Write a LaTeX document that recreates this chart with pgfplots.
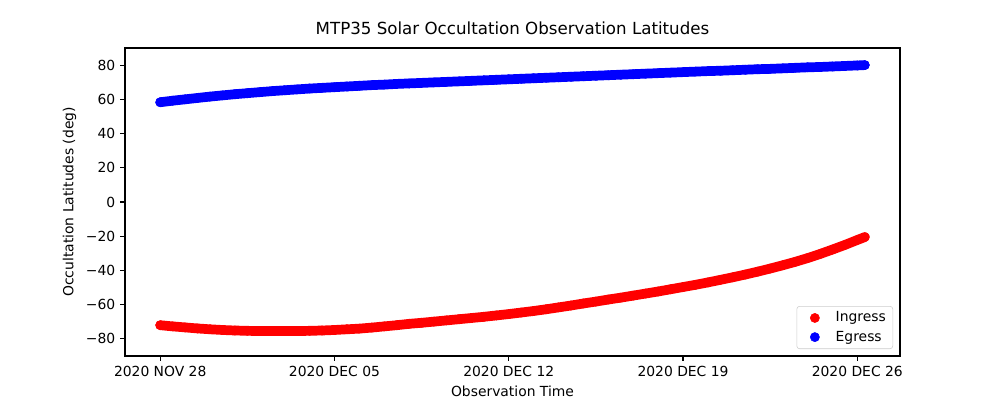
\documentclass[border=0pt]{standalone}
\usepackage{fontspec}
\setmainfont{DejaVu Sans}
\usepackage{pgfplots}
\pgfplotsset{compat=1.18}
\definecolor{legendedge}{gray}{0.8}

\begin{document}
\begin{tikzpicture}[font=\fontsize{10}{12}\selectfont]
  % page = 1000x400 px at 0.72pt per px; axis box at (125,48)-(900,356) px
  \useasboundingbox (-90pt,-31.68pt) rectangle (630pt,256.32pt);
  \begin{axis}[
    at={(0pt,0pt)}, anchor=south west,
    scale only axis,
    width=558pt,
    height=221.76pt,
    xmin=-1.415, xmax=29.715,
    ymin=-90, ymax=90,
    axis line style={line width=0.8pt},
    tick align=outside,
    major tick length=3.5pt,
    tick style={black, line width=0.8pt},
    xtick pos=bottom,
    ytick pos=left,
    xtick={0,7,14,21,28},
    xticklabels={2020 NOV 28, 2020 DEC 05, 2020 DEC 12, 2020 DEC 19, 2020 DEC 26},
    ytick={-80,-60,-40,-20,0,20,40,60,80},
    yticklabels={−80,−60,−40,−20,0,20,40,60,80},
    xlabel={Observation Time},
    ylabel={Occultation Latitudes (deg)},
    title={MTP35 Solar Occultation Observation Latitudes},
    title style={font=\fontsize{12}{14}\selectfont},
    legend style={at={(1,0)}, anchor=south east, xshift=-5pt, yshift=5pt,
      draw=legendedge, rounded corners=2pt, fill=white,
      inner xsep=3pt, inner ysep=2pt,
      row sep=1pt, column sep=3pt},
    legend cell align=left,
    legend image code/.code={
      \path[draw=none, fill=none] (0pt,0pt) -- (20pt,0pt);
      \draw[#1, draw=none] plot coordinates {(10pt,0pt)};
    },
  ]

    % Ingress
    \addplot[red, line width=7pt, line cap=round, line join=round,
      mark=*, mark size=3.3pt, mark options={line width=0.4pt}, forget plot] coordinates {
      (0,-72.0) (0.5,-72.7) (1,-73.3) (1.5,-73.9) (2,-74.4) (2.5,-74.8)
      (3,-75.1) (3.5,-75.3) (4,-75.4) (4.5,-75.4) (5,-75.4) (5.5,-75.4)
      (6,-75.3) (6.5,-75.1) (7,-74.8) (7.5,-74.4) (8,-74.0) (8.5,-73.4)
      (9,-72.7) (9.5,-72.0) (10,-71.2) (10.5,-70.6) (11,-69.9) (11.5,-69.2)
      (12,-68.5) (12.5,-67.8) (13,-67.1) (13.5,-66.3) (14,-65.5) (14.5,-64.6)
      (15,-63.7) (15.5,-62.7) (16,-61.6) (16.5,-60.5) (17,-59.3) (17.5,-58.2)
      (18,-57.0) (18.5,-55.9) (19,-54.7) (19.5,-53.5) (20,-52.3) (20.5,-51.0)
      (21,-49.7) (21.5,-48.4) (22,-47.0) (22.5,-45.5) (23,-44.0) (23.5,-42.4)
      (24,-40.7) (24.5,-38.9) (25,-37.0) (25.5,-35.0) (26,-32.8) (26.5,-30.4)
      (27,-27.8) (27.5,-25.1) (28,-22.2) (28.3,-20.5)
    };

    % Egress
    \addplot[blue, line width=7pt, line cap=round, line join=round,
      mark=*, mark size=3.3pt, mark options={line width=0.4pt}, forget plot] coordinates {
      (0,58.3) (0.5,59.2) (1,60.0) (1.5,60.8) (2,61.6) (2.5,62.3)
      (3,63.0) (3.5,63.6) (4,64.2) (4.5,64.8) (5,65.3) (5.5,65.8)
      (6,66.3) (6.5,66.7) (7,67.1) (7.5,67.5) (8,67.9) (8.5,68.3)
      (9,68.6) (9.5,69.0) (10,69.3) (10.5,69.6) (11,69.9) (11.5,70.2)
      (12,70.5) (12.5,70.8) (13,71.1) (13.5,71.4) (14,71.7) (14.5,72.0)
      (15,72.3) (15.5,72.6) (16,72.9) (16.5,73.2) (17,73.5) (17.5,73.8)
      (18,74.1) (18.5,74.4) (19,74.7) (19.5,75.0) (20,75.3) (20.5,75.6)
      (21,75.9) (21.5,76.2) (22,76.5) (22.5,76.7) (23,77.0) (23.5,77.3)
      (24,77.6) (24.5,77.8) (25,78.1) (25.5,78.4) (26,78.7) (26.5,78.9)
      (27,79.2) (27.5,79.5) (28,79.8) (28.3,80.0)
    };

    \addlegendimage{only marks, mark=*, red, mark size=3.3pt, line width=0.4pt}
    \addlegendentry{Ingress}
    \addlegendimage{only marks, mark=*, blue, mark size=3.3pt, line width=0.4pt}
    \addlegendentry{Egress}
  \end{axis}
\end{tikzpicture}
\end{document}
